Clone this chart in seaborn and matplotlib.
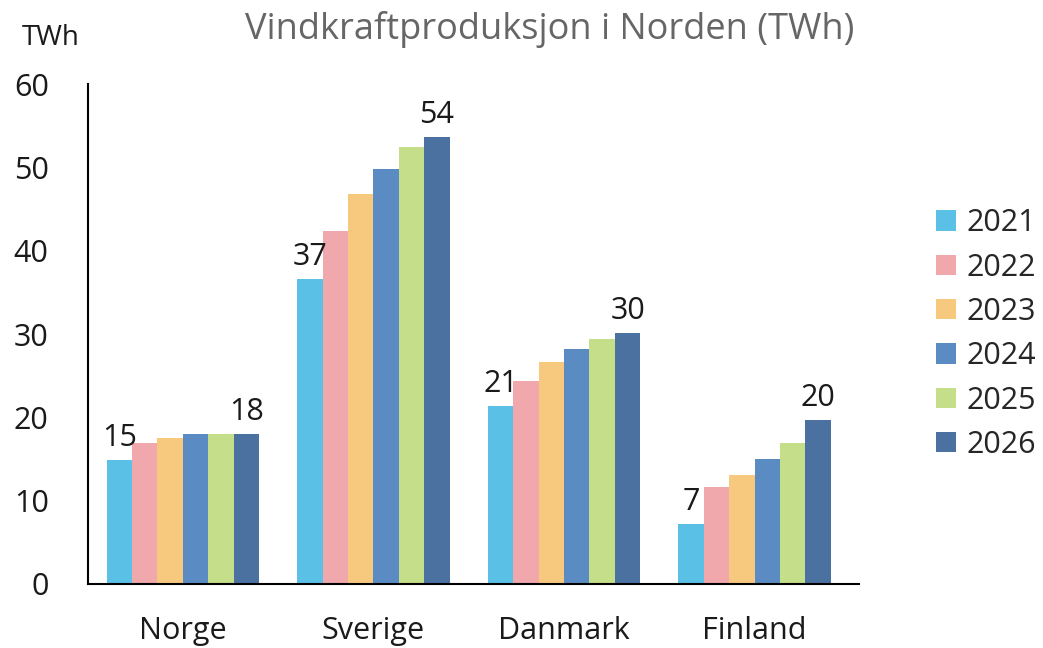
import matplotlib
matplotlib.use("Agg")
import matplotlib.pyplot as plt
import seaborn as sns
import pandas as pd

countries = ["Norge", "Sverige", "Danmark", "Finland"]
years = ["2021", "2022", "2023", "2024", "2025", "2026"]
v2021 = [14.9, 36.6, 21.4, 7.2]
v2022 = [16.9, 42.4, 24.4, 11.6]
v2023 = [17.5, 46.8, 26.6, 13.1]
v2024 = [18.0, 49.8, 28.2, 15.0]
v2025 = [18.0, 52.5, 29.4, 16.9]
v2026 = [18.0, 53.7, 30.1, 19.7]
colors = ["#5BC0E6", "#F0A8AC", "#F7C97E", "#5A8BC2", "#C4DE8A", "#4A71A0"]

series = [v2021, v2022, v2023, v2024, v2025, v2026]
df = pd.DataFrame([
    {"land": c, "aar": y, "twh": vals[i]}
    for y, vals in zip(years, series)
    for i, c in enumerate(countries)
])

sns.set_style("white")
plt.rcParams["font.family"] = ["Open Sans", "DejaVu Sans"]

fig = plt.figure(figsize=(10.43, 6.48), dpi=100)
ax = fig.add_axes([0.084, 0.099, 0.74, 0.771])

sns.barplot(data=df, x="land", y="twh", hue="aar", palette=colors,
            width=0.8, saturation=1, ax=ax, errorbar=None, linewidth=0)

# labels only on first and last year
for cont in (ax.containers[0], ax.containers[-1]):
    ax.bar_label(cont, labels=[f"{b.get_height():.0f}" for b in cont],
                 fontsize=22, color="#1a1a1a", padding=5)

ax.set_ylim(0, 60)
ax.set_xlim(-0.5, 3.55)
ax.set_yticks(range(0, 61, 10))
ax.set_xlabel("")
ax.set_ylabel("")
ax.tick_params(axis="both", length=0, labelsize=22, colors="#1a1a1a")
ax.tick_params(axis="y", pad=28)
ax.tick_params(axis="x", pad=23)
for s in ["top", "right"]:
    ax.spines[s].set_visible(False)
for s in ["left", "bottom"]:
    ax.spines[s].set_color("black")
    ax.spines[s].set_linewidth(1.5)

fig.text(0.021, 0.941, "TWh", fontsize=20, color="#1a1a1a", va="center")
fig.text(0.527, 0.954, "Vindkraftproduksjon i Norden (TWh)", fontsize=26,
         color="#666666", ha="center", va="center")

ax.legend(loc="center left", bbox_to_anchor=(1.064, 0.50), frameon=False,
          fontsize=22, handlelength=0.65, handleheight=0.65,
          handletextpad=0.35, labelspacing=0.47)

fig.savefig("out.png", dpi=100)
